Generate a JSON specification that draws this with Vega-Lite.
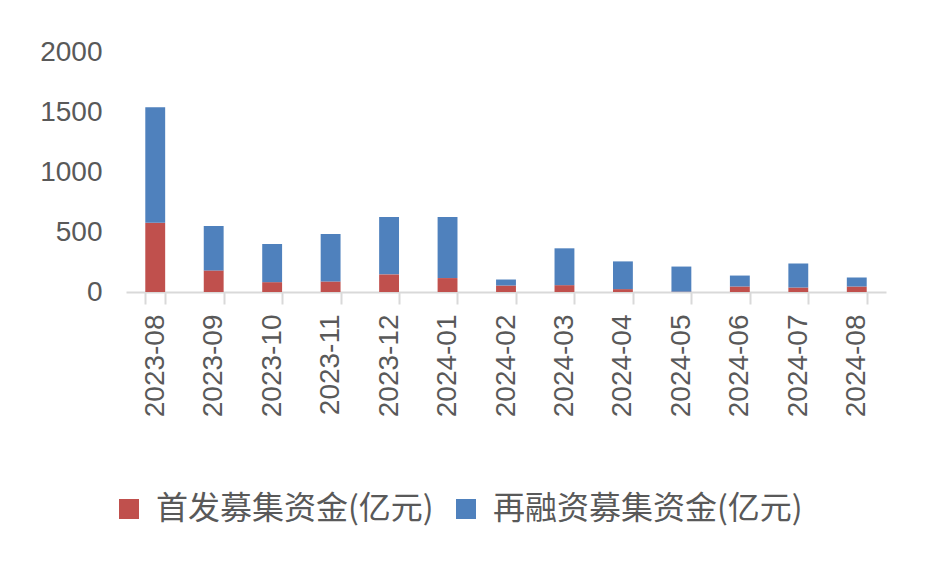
{
  "$schema": "https://vega.github.io/schema/vega-lite/v6.json",
  "autosize": "none",
  "width": 760,
  "height": 240,
  "padding": {"left": 126, "top": 52, "right": 49, "bottom": 276},
  "background": "white",
  "data": {
    "values": [
      {"month": "2023-08", "type": "首发募集资金(亿元)", "value": 578},
      {"month": "2023-08", "type": "再融资募集资金(亿元)", "value": 962},
      {"month": "2023-09", "type": "首发募集资金(亿元)", "value": 180},
      {"month": "2023-09", "type": "再融资募集资金(亿元)", "value": 370},
      {"month": "2023-10", "type": "首发募集资金(亿元)", "value": 82},
      {"month": "2023-10", "type": "再融资募集资金(亿元)", "value": 318},
      {"month": "2023-11", "type": "首发募集资金(亿元)", "value": 88},
      {"month": "2023-11", "type": "再融资募集资金(亿元)", "value": 396},
      {"month": "2023-12", "type": "首发募集资金(亿元)", "value": 147},
      {"month": "2023-12", "type": "再融资募集资金(亿元)", "value": 479},
      {"month": "2024-01", "type": "首发募集资金(亿元)", "value": 116},
      {"month": "2024-01", "type": "再融资募集资金(亿元)", "value": 510},
      {"month": "2024-02", "type": "首发募集资金(亿元)", "value": 54},
      {"month": "2024-02", "type": "再融资募集资金(亿元)", "value": 50},
      {"month": "2024-03", "type": "首发募集资金(亿元)", "value": 57},
      {"month": "2024-03", "type": "再融资募集资金(亿元)", "value": 307},
      {"month": "2024-04", "type": "首发募集资金(亿元)", "value": 24},
      {"month": "2024-04", "type": "再融资募集资金(亿元)", "value": 231},
      {"month": "2024-05", "type": "首发募集资金(亿元)", "value": 3},
      {"month": "2024-05", "type": "再融资募集资金(亿元)", "value": 209},
      {"month": "2024-06", "type": "首发募集资金(亿元)", "value": 46},
      {"month": "2024-06", "type": "再融资募集资金(亿元)", "value": 91},
      {"month": "2024-07", "type": "首发募集资金(亿元)", "value": 38},
      {"month": "2024-07", "type": "再融资募集资金(亿元)", "value": 200},
      {"month": "2024-08", "type": "首发募集资金(亿元)", "value": 45},
      {"month": "2024-08", "type": "再融资募集资金(亿元)", "value": 75}
    ]
  },
  "config": {
    "view": {"stroke": null},
    "axis": {"grid": false}
  },
  "mark": {"type": "bar"},
  "encoding": {
    "x": {
      "field": "month",
      "type": "ordinal",
      "title": null,
      "scale": {"paddingInner": 0.66, "paddingOuter": 0.33},
      "axis": {
        "labelAngle": -90,
        "labelFont": "Liberation Sans",
        "labelFontSize": 28,
        "labelColor": "#595959",
        "labelPadding": 10,
        "domainColor": "#d9d9d9",
        "domainWidth": 2,
        "tickBand": "extent",
        "tickColor": "#d9d9d9",
        "tickWidth": 2,
        "tickSize": 12
      }
    },
    "y": {
      "field": "value",
      "type": "quantitative",
      "stack": "zero",
      "title": null,
      "scale": {"domain": [0, 2000]},
      "axis": {
        "values": [0, 500, 1000, 1500, 2000],
        "format": "d",
        "domain": false,
        "ticks": false,
        "labelFont": "Liberation Sans",
        "labelFontSize": 28,
        "labelColor": "#595959",
        "labelPadding": 24
      }
    },
    "color": {
      "field": "type",
      "type": "nominal",
      "scale": {
        "domain": ["首发募集资金(亿元)", "再融资募集资金(亿元)"],
        "range": ["#C0504D", "#4F81BD"]
      },
      "legend": {
        "title": null,
        "orient": "none",
        "direction": "horizontal",
        "legendX": -13,
        "legendY": 441,
        "symbolType": "square",
        "symbolSize": 400,
        "symbolStrokeWidth": 0,
        "labelFont": "Noto Sans CJK SC",
        "labelFontSize": 32,
        "labelColor": "#595959",
        "labelOffset": 11,
        "columnPadding": 16,
        "labelLimit": 500
      }
    },
    "order": {"field": "type", "sort": "descending"}
  }
}
